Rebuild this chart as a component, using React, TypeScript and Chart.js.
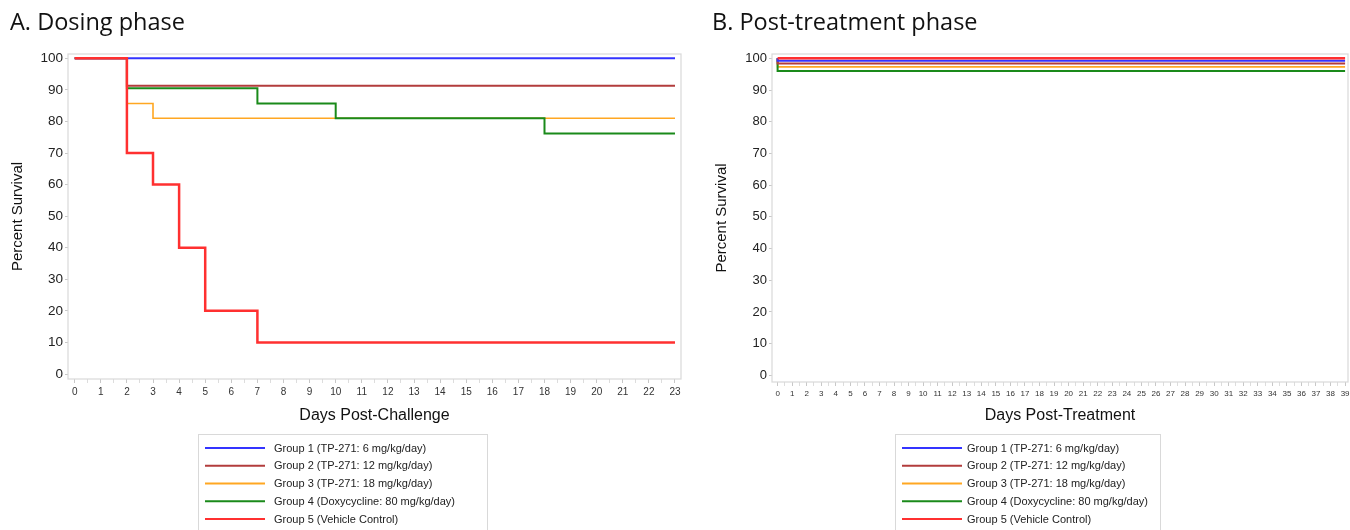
import React, { useEffect, useRef } from "react";
import { Chart, registerables } from "chart.js";

Chart.register(...registerables);
Chart.defaults.font.family = "'Liberation Sans', Arial, sans-serif";

// ---------- Data ----------
const groupLabels = [
  "Group 1 (TP-271: 6 mg/kg/day)",
  "Group 2 (TP-271: 12 mg/kg/day)",
  "Group 3 (TP-271: 18 mg/kg/day)",
  "Group 4 (Doxycycline: 80 mg/kg/day)",
  "Group 5 (Vehicle Control)",
];
const groupColors = ["#3434ff", "#b23c3c", "#ffa722", "#1a8a1a", "#ff3030"];
const groupWidths = [2, 2, 1.6, 2, 2.5];
const groupOrder = [1, 2, 4, 3, 0];

// A. Dosing phase (Kaplan-Meier steps: day, percent survival)
const dosingDays1 = [0, 23];
const dosingSurv1 = [100, 100];
const dosingDays2 = [0, 2, 23];
const dosingSurv2 = [100, 91.3, 91.3];
const dosingDays3 = [0, 2, 3, 23];
const dosingSurv3 = [100, 85.7, 81, 81];
const dosingDays4 = [0, 2, 7, 10, 18, 23];
const dosingSurv4 = [100, 90.5, 85.7, 81, 76.2, 76.2];
const dosingDays5 = [0, 2, 3, 4, 5, 7, 23];
const dosingSurv5 = [100, 70, 60, 40, 20, 10, 10];

// B. Post-treatment phase
const postDays = [0, 0, 39];
const postSurv1 = [100, 99.2, 99.2];
const postSurv2 = [100, 98.4, 98.4];
const postSurv3 = [100, 97.3, 97.3];
const postSurv4 = [100, 96, 96];
const postSurv5 = [100, 100, 100];

// Tick labels
const percentTicks = [0, 10, 20, 30, 40, 50, 60, 70, 80, 90, 100];
const dosingDayTicks = [0, 1, 2, 3, 4, 5, 6, 7, 8, 9, 10, 11, 12, 13, 14, 15, 16, 17, 18, 19, 20, 21, 22, 23];
const postDayTicks = [
  0, 1, 2, 3, 4, 5, 6, 7, 8, 9, 10, 11, 12, 13, 14, 15, 16, 17, 18, 19,
  20, 21, 22, 23, 24, 25, 26, 27, 28, 29, 30, 31, 32, 33, 34, 35, 36, 37, 38, 39,
];

type PanelCfg = {
  key: string;
  title: string;
  xTitle: string;
  days: number[][];
  surv: number[][];
  dayTicks: number[];
  xMin: number;
  xMax: number;
  yMin: number;
  yMax: number;
  padLeft: number;
  padRight: number;
  padBottom: number;
  titleBottom: number;
  yAxisWidth: number;
  yTitlePad: number;
  xAxisHeight: number;
  xTickSize: number;
  yTickSize: number;
  legend: { x: number; y: number; w: number; lineX: number; textX: number; rowY: number };
};

function buildChart(canvas: HTMLCanvasElement, p: PanelCfg) {
  const minorTicks: number[] = [];
  p.dayTicks.forEach((d) => {
    minorTicks.push(d);
    if (d + 0.5 <= p.xMax) minorTicks.push(d + 0.5);
  });

  const panelPlugin = {
    id: "panel_" + p.key,
    beforeDatasetsDraw(chart: any) {
      const { left, right, top, bottom } = chart.chartArea;
      const ctx = chart.ctx;
      ctx.save();
      ctx.strokeStyle = "#d9d9d9";
      ctx.lineWidth = 1.2;
      ctx.strokeRect(left, top, right - left, bottom - top);
      ctx.restore();
    },
    afterDraw(chart: any) {
      const ctx = chart.ctx;
      const L = p.legend;
      ctx.save();
      ctx.strokeStyle = "#d9d9d9";
      ctx.lineWidth = 1;
      ctx.strokeRect(L.x + 0.5, L.y + 0.5, L.w, 120);
      chart.data.datasets.forEach((ds: any, i: number) => {
        const y = L.rowY + i * 17.75;
        ctx.strokeStyle = ds.borderColor;
        ctx.lineWidth = 2;
        ctx.beginPath();
        ctx.moveTo(L.lineX, y);
        ctx.lineTo(L.lineX + 60, y);
        ctx.stroke();
        ctx.fillStyle = "#222";
        ctx.font = "11px 'Liberation Sans', Arial, sans-serif";
        ctx.textBaseline = "middle";
        ctx.textAlign = "left";
        ctx.fillText(ds.label, L.textX, y + 0.5);
      });
      ctx.restore();
    },
  };

  return new Chart(canvas, {
    type: "line",
    data: {
      datasets: groupLabels.map((label, i) => ({
        label,
        data: p.days[i].map((d, j) => ({ x: d, y: p.surv[i][j] })),
        borderColor: groupColors[i],
        backgroundColor: groupColors[i],
        borderWidth: groupWidths[i],
        pointRadius: 0,
        stepped: "before" as const,
        fill: false,
        order: groupOrder[i],
      })),
    },
    options: {
      animation: false,
      responsive: false,
      devicePixelRatio: 1,
      layout: { padding: { left: p.padLeft, right: p.padRight, top: 0, bottom: p.padBottom } },
      plugins: {
        legend: { display: false },
        tooltip: { enabled: false },
        title: {
          display: true,
          text: p.title,
          align: "start",
          color: "#111",
          font: { family: "'Open Sans', 'Noto Sans', sans-serif", size: 23.5, weight: "normal", lineHeight: 1.2 },
          padding: { top: 9, bottom: p.titleBottom },
        },
      },
      scales: {
        x: {
          type: "linear",
          min: p.xMin,
          max: p.xMax,
          afterBuildTicks: (s: any) => {
            s.ticks = minorTicks.map((v) => ({ value: v }));
          },
          afterFit: (s: any) => {
            s.height = p.xAxisHeight;
            s.paddingLeft = 0;
            s.paddingRight = 0;
          },
          ticks: {
            autoSkip: false,
            maxRotation: 0,
            minRotation: 0,
            padding: 3,
            color: "#333",
            font: { size: p.xTickSize },
            callback: (v: any) => (Number.isInteger(v) ? String(v) : ""),
          },
          grid: {
            drawOnChartArea: false,
            drawTicks: true,
            tickLength: 4,
            tickColor: (c: any) => (Number.isInteger(c.tick?.value) ? "#c8c8c8" : "#dddddd"),
          },
          border: { display: false },
          title: {
            display: true,
            text: p.xTitle,
            color: "#111",
            font: { size: 16, lineHeight: 1.2 },
            padding: { top: 1.4, bottom: 0 },
          },
        },
        y: {
          type: "linear",
          min: p.yMin,
          max: p.yMax,
          afterBuildTicks: (s: any) => {
            s.ticks = percentTicks.map((v) => ({ value: v }));
          },
          afterFit: (s: any) => {
            s.width = p.yAxisWidth;
            s.paddingTop = 0;
            s.paddingBottom = 0;
          },
          ticks: {
            autoSkip: false,
            padding: 2,
            color: "#222",
            font: { size: p.yTickSize },
            callback: (v: any) => String(v),
          },
          grid: {
            drawOnChartArea: false,
            drawTicks: true,
            tickLength: 3,
            tickColor: "#c8c8c8",
          },
          border: { display: false },
          title: {
            display: true,
            text: "Percent Survival",
            color: "#111",
            font: { size: 15, lineHeight: 1.0667 },
            padding: { top: p.yTitlePad, bottom: 0 },
          },
        },
      },
    } as any,
    plugins: [panelPlugin],
  });
}

const leftCfg: PanelCfg = {
  key: "a",
  title: "A. Dosing phase",
  xTitle: "Days Post-Challenge",
  days: [dosingDays1, dosingDays2, dosingDays3, dosingDays4, dosingDays5],
  surv: [dosingSurv1, dosingSurv2, dosingSurv3, dosingSurv4, dosingSurv5],
  dayTicks: dosingDayTicks,
  xMin: -0.257,
  xMax: 23.23,
  yMin: -1.58,
  yMax: 101.36,
  padLeft: 10,
  padRight: 9,
  padBottom: 105,
  titleBottom: 16.8,
  yAxisWidth: 58,
  yTitlePad: 0,
  xAxisHeight: 46,
  xTickSize: 10,
  yTickSize: 13.5,
  legend: { x: 198, y: 434, w: 289, lineX: 205, textX: 274, rowY: 448 },
};

const rightCfg: PanelCfg = {
  key: "b",
  title: "B. Post-treatment phase",
  xTitle: "Days Post-Treatment",
  days: [postDays, postDays, postDays, postDays, postDays],
  surv: [postSurv1, postSurv2, postSurv3, postSurv4, postSurv5],
  dayTicks: postDayTicks,
  xMin: -0.385,
  xMax: 39.2,
  yMin: -2.1,
  yMax: 101.36,
  padLeft: 22,
  padRight: 2,
  padBottom: 105,
  titleBottom: 16.8,
  yAxisWidth: 60,
  yTitlePad: 2,
  xAxisHeight: 43,
  xTickSize: 8,
  yTickSize: 13,
  legend: { x: 895, y: 434, w: 265, lineX: 902, textX: 967, rowY: 448 },
};
rightCfg.legend = { x: 205, y: 434, w: 265, lineX: 212, textX: 277, rowY: 448 };

function Panel({ cfg, left, width }: { cfg: PanelCfg; left: number; width: number }) {
  const ref = useRef<HTMLCanvasElement | null>(null);
  useEffect(() => {
    if (!ref.current) return;
    const chart = buildChart(ref.current, cfg);
    return () => chart.destroy();
  }, [cfg]);
  return (
    <canvas
      ref={ref}
      width={width}
      height={530}
      style={{ position: "absolute", left, top: 0, width, height: 530, display: "block" }}
    />
  );
}

export default function App() {
  return (
    <div
      style={{
        position: "fixed",
        left: 0,
        top: 0,
        width: 1350,
        height: 530,
        background: "#ffffff",
        overflow: "hidden",
      }}
    >
      <Panel cfg={leftCfg} left={0} width={690} />
      <Panel cfg={rightCfg} left={690} width={660} />
    </div>
  );
}
